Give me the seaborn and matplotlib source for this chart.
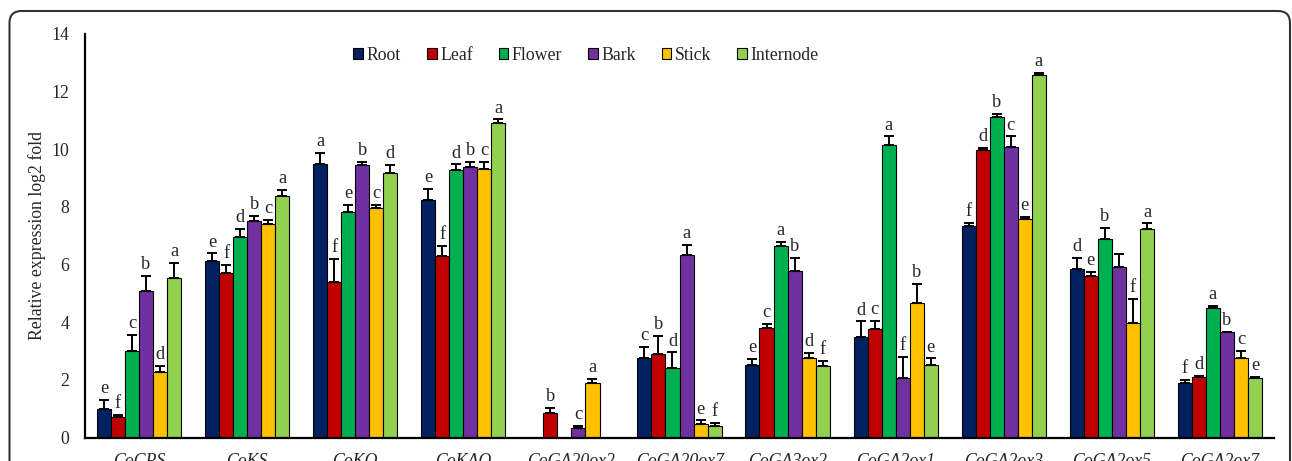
import matplotlib
matplotlib.use("Agg")
import matplotlib.pyplot as plt
from matplotlib.patches import FancyBboxPatch
from matplotlib.transforms import IdentityTransform
import pandas as pd
import seaborn as sns
import numpy as np

genes = ["CoCPS", "CoKS", "CoKO", "CoKAO", "CoGA20ox2", "CoGA20ox7",
         "CoGA3ox2", "CoGA2ox1", "CoGA2ox3", "CoGA2ox5", "CoGA2ox7"]
tissues = ["Root", "Leaf", "Flower", "Bark", "Stick", "Internode"]
colors = ["#002060", "#C00000", "#00B050", "#7030A0", "#FFC000", "#92D050"]

# mean values, one list per tissue (same order as genes)
root = [1.00, 6.11, 9.49, 8.25, 0.00, 2.75, 2.52, 3.48, 7.35, 5.86, 1.91]
leaf = [0.71, 5.72, 5.38, 6.29, 0.86, 2.91, 3.80, 3.75, 9.98, 5.59, 2.09]
flower = [2.99, 6.96, 7.81, 9.29, 0.00, 2.42, 6.63, 10.15, 11.10, 6.89, 4.49]
bark = [5.07, 7.52, 9.45, 9.38, 0.34, 6.32, 5.79, 2.08, 10.07, 5.90, 3.65]
stick = [2.28, 7.39, 7.97, 9.30, 1.90, 0.46, 2.75, 4.67, 7.59, 3.99, 2.77]
internode = [5.54, 8.37, 9.18, 10.89, 0.00, 0.42, 2.48, 2.53, 12.57, 7.23, 2.08]

# upper error bars
root_err = [0.30, 0.28, 0.38, 0.38, np.nan, 0.40, 0.22, 0.55, 0.10, 0.36, 0.08]
leaf_err = [0.09, 0.27, 0.82, 0.35, 0.16, 0.61, 0.14, 0.29, 0.07, 0.16, 0.06]
flower_err = [0.56, 0.28, 0.25, 0.18, np.nan, 0.54, 0.16, 0.29, 0.13, 0.37, 0.08]
bark_err = [0.53, 0.16, 0.10, 0.17, 0.06, 0.37, 0.45, 0.72, 0.37, 0.48, 0.02]
stick_err = [0.20, 0.16, 0.10, 0.25, 0.13, 0.14, 0.20, 0.67, 0.07, 0.83, 0.24]
internode_err = [0.52, 0.23, 0.27, 0.14, np.nan, 0.08, 0.18, 0.22, 0.06, 0.20, 0.03]

# significance letters
root_lab = ["e", "e", "a", "e", "", "c", "e", "d", "f", "d", "f"]
leaf_lab = ["f", "f", "f", "f", "b", "b", "c", "c", "d", "e", "d"]
flower_lab = ["c", "d", "e", "d", "", "d", "a", "a", "b", "b", "a"]
bark_lab = ["b", "b", "b", "b", "c", "a", "b", "f", "c", "", "b"]
stick_lab = ["d", "c", "c", "c", "a", "e", "d", "b", "e", "f", "c"]
internode_lab = ["a", "a", "d", "a", "", "f", "f", "e", "a", "a", "e"]

values = [root, leaf, flower, bark, stick, internode]
errors = [root_err, leaf_err, flower_err, bark_err, stick_err, internode_err]
letters = [root_lab, leaf_lab, flower_lab, bark_lab, stick_lab, internode_lab]

rows = []
for t, vals in zip(tissues, values):
    for g, v in zip(genes, vals):
        rows.append({"gene": g, "tissue": t, "value": v})
df = pd.DataFrame(rows)

sns.set_style("white")
plt.rcParams["font.family"] = ["Liberation Serif", "DejaVu Serif"]
fs = 12.8

fig = plt.figure(figsize=(12.92, 4.61), dpi=100)
ax = fig.add_axes([85 / 1292, 1 - 437.7 / 461, (1274 - 85) / 1292, (437.7 - 33.7) / 461])

sns.barplot(data=df, x="gene", y="value", hue="tissue", order=genes, hue_order=tissues,
            palette=colors, width=0.78, gap=0, edgecolor="black", linewidth=0.8,
            errorbar=None, saturation=1, ax=ax)

bar_conts = list(ax.containers)
for i, cont in enumerate(bar_conts):
    for j, bar in enumerate(cont.patches):
        x = bar.get_x() + bar.get_width() / 2
        h = bar.get_height()
        e = errors[i][j]
        top = h
        if not np.isnan(e):
            ax.errorbar(x, h, yerr=[[0], [e]], fmt="none", ecolor="black",
                        elinewidth=1.4, capsize=3.5, capthick=1.4, zorder=3)
            top = h + e
        if letters[i][j]:
            ax.annotate(letters[i][j], (x, top), xytext=(0, 2), textcoords="offset points",
                        ha="center", va="bottom", fontsize=fs + 0.5)

ax.set_ylim(0, 14)
ax.set_xlim(-0.5, 10.5)
ax.set_yticks(range(0, 15, 2))
ax.set_ylabel("Relative expression log2 fold", fontsize=fs, labelpad=4)
ax.set_xlabel("")
ax.tick_params(axis="both", length=0, labelsize=fs)
ax.tick_params(axis="y", pad=11.5)
ax.tick_params(axis="x", pad=11)
for lbl in ax.get_xticklabels():
    lbl.set_fontstyle("italic")
sns.despine(ax=ax)
ax.spines["left"].set_linewidth(1.6)
ax.spines["bottom"].set_linewidth(1.6)
ax.spines["left"].set_color("black")
ax.spines["bottom"].set_color("black")

handles, labels = ax.get_legend_handles_labels()
ax.legend(handles, labels, loc="center", bbox_to_anchor=(586 / 1292, 1 - 55 / 461),
          bbox_transform=fig.transFigure, ncol=6, frameon=False, fontsize=fs,
          handlelength=0.55, handleheight=0.55, handletextpad=0.2, columnspacing=1.45)

frame = FancyBboxPatch((9.5, -30), 1290 - 9.5, 461 - 11 + 30,
                       boxstyle="round,pad=0,rounding_size=12",
                       transform=IdentityTransform(), facecolor="none",
                       edgecolor="#333333", linewidth=1.5, zorder=10)
fig.add_artist(frame)

fig.savefig("out.png", dpi=100)
